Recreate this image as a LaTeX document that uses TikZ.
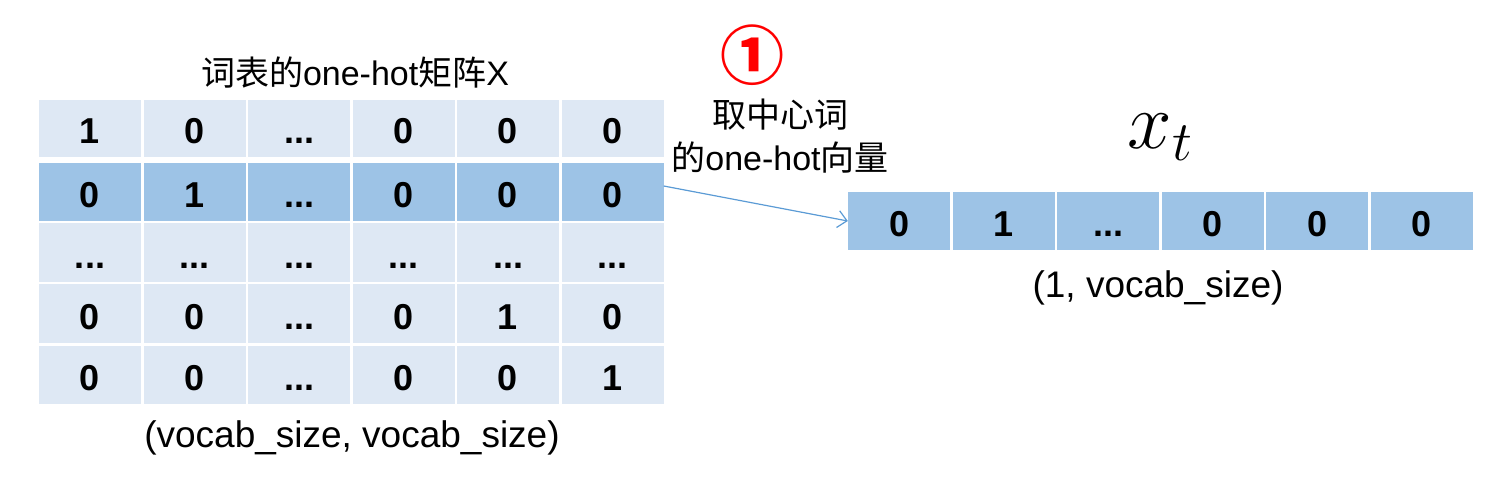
\documentclass[tikz,border=0pt]{standalone}
\usepackage{fix-cm}
\usepackage{fontspec}
\setmainfont{Liberation Sans}
\newfontfamily\cjkfont{Noto Sans CJK SC}
\usetikzlibrary{arrows.meta}
\definecolor{cellLight}{HTML}{DEE8F4}
\definecolor{cellDark}{HTML}{9DC3E6}
\definecolor{arrowBlue}{HTML}{5B9BD5}
\def\mydots{...}
\tikzset{
  cellbox/.style={draw=none, inner sep=0pt, minimum width=102pt},
  digit/.style={anchor=base, inner sep=0pt, font=\fontsize{36}{40}\selectfont\bfseries},
  labeltext/.style={inner sep=0pt, font=\fontsize{37}{42}\selectfont},
}
% #1 name prefix, #2 top, #3 bottom, #4 fill, #5 values, #6 x start
\newcommand{\cellrow}[6]{%
  \foreach \v [count=\c] in {#5} {%
    \node[cellbox, fill=#4, minimum height={#3-#2}] (#1-\c) at ({#6+(\c-1)*104.5+51},{(#2+#3)/2}) {};
    \path (#1-\c.south) ++(0,-13.5) node[digit] {\v};
  }%
}
\begin{document}
\begin{tikzpicture}[x=1pt,y=-1pt]
\useasboundingbox (0,0) rectangle (1498,486);
% matrix X
\cellrow{ra}{100}{157}{cellLight}{1,0,\mydots,0,0,0}{39}
\cellrow{rb}{163}{221}{cellDark}{0,1,\mydots,0,0,0}{39}
\cellrow{rc}{223}{282}{cellLight}{\mydots,\mydots,\mydots,\mydots,\mydots,\mydots}{39}
\cellrow{rd}{284}{343}{cellLight}{0,0,\mydots,0,1,0}{39}
\cellrow{re}{346}{404}{cellLight}{0,0,\mydots,0,0,1}{39}
% vector
\cellrow{vec}{192}{250}{cellDark}{0,1,\mydots,0,0,0}{848}
% texts
\node[inner sep=0pt, font=\fontsize{34}{38}\selectfont] (title) at (355,73) {{\cjkfont 词表的}one-hot{\cjkfont 矩阵}X};
\node[labeltext] (msize) at (352,438) {(vocab\_size, vocab\_size)};
\node[labeltext] (vsize) at (1158,288) {(1, vocab\_size)};
\node[anchor=base, inner sep=0pt, font=\fontsize{80}{90}\selectfont] (xt) at (1160,149) {$x_t$};
\node[inner sep=0pt, text=red, font=\fontsize{64}{70}\selectfont\cjkfont\bfseries] (num) at (752,55) {①};
\node[inner sep=0pt, font=\fontsize{34}{38}\selectfont] (step1) at (780,115) {\cjkfont 取中心词};
\node[inner sep=0pt, font=\fontsize{34}{38}\selectfont] (step2) at (780,158) {{\cjkfont 的}one-hot{\cjkfont 向量}};
% arrow
\draw[arrowBlue, line width=1.2pt, -{Straight Barb[length=9pt,width=17pt]}] ([yshift=6pt]rb-6.east) -- (vec-1.west);
\end{tikzpicture}
\end{document}
